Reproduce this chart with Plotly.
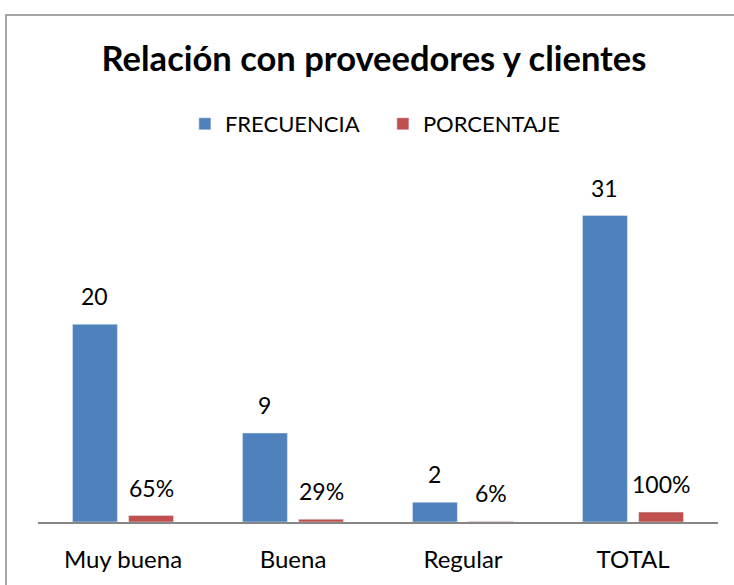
import plotly.graph_objects as go

categorias = ['Muy buena', 'Buena', 'Regular', 'TOTAL']
frecuencia = [20, 9, 2, 31]
porcentaje = [0.65, 0.29, 0.06, 1.00]
etiquetas_frec = ['20', '9', '2', '31']
etiquetas_pct = ['65%', '29%', '6%', '100%']

azul = '#4F81BD'
rojo = '#C0504D'
fuente = 'Lato'

fig = go.Figure()
fig.add_trace(go.Bar(x=categorias, y=frecuencia, name='FRECUENCIA', marker_color=azul))
fig.add_trace(go.Bar(x=categorias, y=porcentaje, name='PORCENTAJE', marker_color=rojo))

# etiquetas de datos con separacion como en Excel
desp = 0.165
for i in range(len(categorias)):
    fig.add_annotation(x=i - desp, y=frecuencia[i], text=etiquetas_frec[i],
                       showarrow=False, yanchor='bottom', yshift=12,
                       font=dict(size=23, color='black', family=fuente))
    fig.add_annotation(x=i + desp, y=porcentaje[i], text=etiquetas_pct[i],
                       showarrow=False, yanchor='bottom', yshift=12,
                       font=dict(size=23, color='black', family=fuente))

# borde del area del grafico
fig.add_shape(type='rect', xref='paper', yref='paper',
              x0=-0.047, x1=1.2, y0=-0.3, y1=1.4655,
              line=dict(color='#898989', width=1.5), fillcolor='rgba(0,0,0,0)')

fig.update_layout(
    width=734, height=585,
    margin=dict(l=38, r=16, t=176, b=61),
    paper_bgcolor='white', plot_bgcolor='white',
    barmode='group', bargap=0.34, bargroupgap=0.2,
    font=dict(family=fuente, size=23, color='black'),
    title=dict(text='<b>Relación con proveedores y clientes</b>',
               x=374 / 734, xanchor='center', y=1 - 59 / 585, yanchor='middle',
               font=dict(size=34.5, family=fuente, color='black')),
    legend=dict(orientation='h', x=0.216, xanchor='left',
                yref='container', y=1 - 124 / 585, yanchor='middle',
                font=dict(size=22, family=fuente), itemwidth=30,
                entrywidth=153, traceorder='normal'),
    showlegend=True,
)
fig.update_xaxes(showline=True, linecolor='#868686', linewidth=1.5,
                 ticks='', tickfont=dict(size=24), ticklabelstandoff=15)
fig.update_yaxes(range=[0, 35], showgrid=False, showticklabels=False,
                 zeroline=False, showline=False)

fig.write_html("out.html", config={'displayModeBar': False},
               post_script="document.body.style.margin='0';")
